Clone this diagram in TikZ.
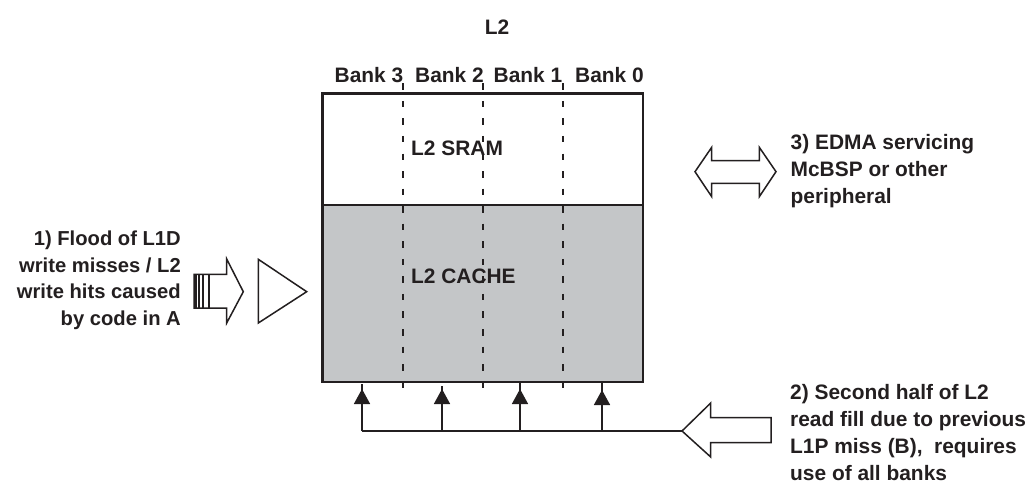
\documentclass[tikz,border=0pt]{standalone}
\usepackage{fontspec}
\setmainfont{Liberation Sans}
\definecolor{ink}{HTML}{231F20}
\definecolor{cachegray}{HTML}{C4C6C8}
\tikzset{
  lbl/.style={font=\fontsize{20.9}{27}\selectfont\bfseries, text=ink, inner sep=0pt},
  lblL/.style={lbl, align=left, anchor=north west},
  lblR/.style={lbl, font=\fontsize{20.2}{26.7}\selectfont\bfseries, align=right, anchor=north east},
  boxline/.style={draw=ink, line width=2.2pt, outer sep=0pt, inner sep=0pt, anchor=north west},
  outline/.style={draw=ink, line width=1.5pt, line join=miter, fill=white},
  bankdiv/.style={draw=ink, line width=2pt, dash pattern=on 6.5pt off 11.05pt},
  bus/.style={draw=ink, line width=2pt},
  stripe/.style={draw=ink, line width=1.6pt},
  headtip/.style={fill=ink, draw=none}
}
\begin{document}
\begin{tikzpicture}[x=1pt,y=-1pt]
\useasboundingbox (0,0) rectangle (1032,487);
% boxes
\node[boxline, fill=white, minimum width=320.5pt, minimum height=111.5pt] (sram) at (322.5,93.5) {};
\node[boxline, fill=cachegray, minimum width=320.5pt, minimum height=177pt] (cache) at (322.5,205) {};
% bank dividers
\coordinate (d3t) at (403,83.3); \coordinate (d3b) at (403,389);
\coordinate (d2t) at (483,83.3);   \coordinate (d2b) at (483,389);
\coordinate (d1t) at (563,83.3);   \coordinate (d1b) at (563,389);
\draw[bankdiv] (d3t) -- (d3b);
\draw[bankdiv] (d2t) -- (d2b);
\draw[bankdiv] (d1t) -- (d1b);
% labels
\node[lbl] (title) at (497,27) {L2};
\node[lbl] (b3) at (369,75) {Bank 3};
\node[lbl] (b2) at (449.5,75) {Bank 2};
\node[lbl] (b1) at (528,75) {Bank 1};
\node[lbl] (b0) at (609.5,75) {Bank 0};
\node[lbl, anchor=west] (sramt) at (411,148) {L2 SRAM};
\node[lbl, anchor=west] (cachet) at (411,276) {L2 CACHE};
\node[lblR] (t1) at (181,230.5) {1) Flood of L1D\\write misses / L2\\write hits caused\\by code in A};
\node[lblL] (t3) at (790.5,134) {3) EDMA servicing\\McBSP or other\\peripheral};
\node[lblL] (t2) at (790,384.5) {2) Second half of L2\\read fill due to previous\\L1P miss (B),\ \ requires\\use of all banks};
% left block arrow
\draw[outline] (194,274.3) -- (226.7,274.3) -- (226.7,259) -- (243.3,291.7) -- (226.7,323) -- (226.7,308) -- (194,308) -- cycle;
\draw[stripe] (196,274.3) -- (196,308) (199,274.3) -- (199,308) (203,274.3) -- (203,308) (209,274.3) -- (209,308);
\draw[outline] (258.3,259.3) -- (306.7,291.7) -- (258.3,323) -- cycle;
% double arrow
\draw[outline] (695,171.7) -- (711.7,147.3) -- (711.7,160.7) -- (759.3,160.7) -- (759.3,147.3) -- (776,171.7) -- (759.3,196.7) -- (759.3,183.3) -- (711.7,183.3) -- (711.7,196.7) -- cycle;
% bus
\coordinate (busL) at (362,431);
\coordinate (busA) at (442,431);
\coordinate (busB) at (520,431);
\coordinate (busC) at (602,431);
\coordinate (busR) at (682,431);
\draw[bus] (busL) -- (busR);
\draw[bus] (busL) -- (362,384);
\draw[bus] (busA) -- (442,386);
\draw[bus] (busB) -- (520,382);
\draw[bus] (busC) -- (602,382);
\fill[headtip] (362,389) -- (370.2,404) -- (353.8,404) -- cycle;
\fill[headtip] (442,389) -- (450.2,404) -- (433.8,404) -- cycle;
\fill[headtip] (520,389) -- (528.2,404) -- (511.8,404) -- cycle;
\fill[headtip] (602,390) -- (610.2,405) -- (593.8,405) -- cycle;
% big arrow
\draw[outline] (682,431) -- (710.7,403) -- (710.7,417.7) -- (771,417.7) -- (771,442.7) -- (710.7,442.7) -- (710.7,457) -- cycle;
\end{tikzpicture}
\end{document}
